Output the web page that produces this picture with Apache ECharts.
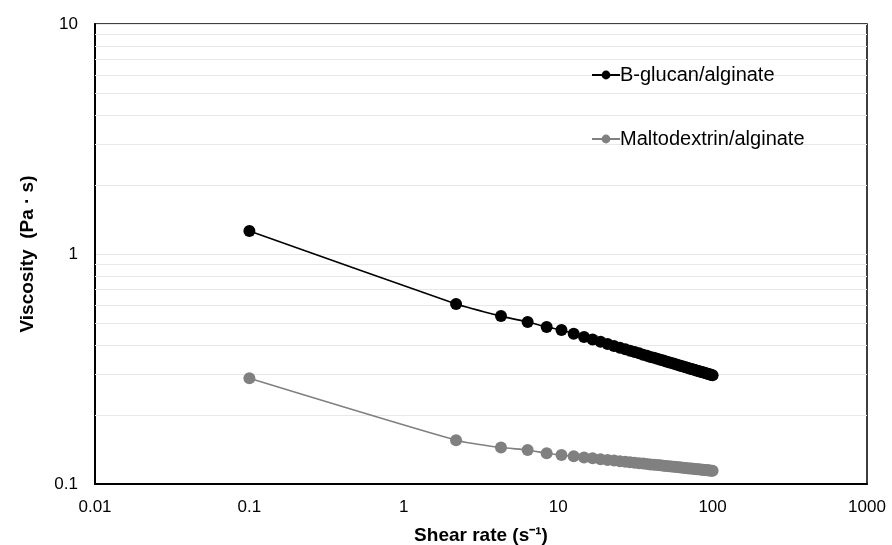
<!DOCTYPE html>
<html>
<head>
<meta charset="utf-8">
<script src="https://cdn.jsdelivr.net/npm/echarts@6/dist/echarts.min.js"></script>
<style>
  html, body { margin: 0; padding: 0; background: #fff; }
  #chart { width: 892px; height: 545px; }
</style>
</head>
<body>
<div id="chart"></div>
<script>
// shear rate (s^-1)
var shearRate = [0.1, 2.18, 4.26, 6.34, 8.42, 10.5, 12.6, 14.7, 16.7, 18.8, 20.9, 23.0, 25.1, 27.2, 29.2,
  31.3, 33.4, 35.5, 37.6, 39.6, 41.7, 43.8, 45.9, 48.0, 50.0, 52.1, 54.2, 56.3, 58.4, 60.5, 62.5,
  64.6, 66.7, 68.8, 70.9, 72.9, 75.0, 77.1, 79.2, 81.3, 83.3, 85.4, 87.5, 89.6, 91.7, 93.8, 95.8, 97.9, 100];

var glucanVisc = [1.26, 0.606, 0.537, 0.506, 0.482, 0.467, 0.450, 0.436, 0.425, 0.415, 0.406, 0.398, 0.391, 0.385, 0.380,
  0.375, 0.370, 0.365, 0.361, 0.357, 0.354, 0.350, 0.347, 0.344, 0.341, 0.338, 0.336, 0.333, 0.331, 0.328, 0.326,
  0.324, 0.322, 0.320, 0.318, 0.316, 0.315, 0.313, 0.311, 0.310, 0.308, 0.307, 0.305, 0.304, 0.302, 0.301, 0.300, 0.298, 0.297];

var maltoVisc = [0.288, 0.155, 0.144, 0.1406, 0.136, 0.1337, 0.1319, 0.1305, 0.1293, 0.1282, 0.1273, 0.1264, 0.1257, 0.1249, 0.1243,
  0.1237, 0.1232, 0.1227, 0.1222, 0.1217, 0.1213, 0.1209, 0.1205, 0.1201, 0.1198, 0.1194, 0.1191, 0.1188, 0.1185, 0.1182, 0.1179,
  0.1177, 0.1174, 0.1171, 0.1169, 0.1167, 0.1164, 0.1162, 0.1160, 0.1158, 0.1156, 0.1154, 0.1152, 0.1150, 0.1148, 0.1147, 0.1145, 0.1143, 0.1141];

// minor gridlines of the log y axis
var minorY = [0.2, 0.3, 0.4, 0.5, 0.6, 0.7, 0.8, 0.9, 2, 3, 4, 5, 6, 7, 8, 9];

var font = "Liberation Sans, Arial, sans-serif";

function pairs(xs, ys) {
  return xs.map(function (x, i) { return [x, ys[i]]; });
}
function fmt(v) {
  return String(Number(v.toPrecision(6)));
}

var chart = echarts.init(document.getElementById('chart'));
var option = {
  backgroundColor: '#fff',
  animation: false,
  grid: {
    left: 95, right: 25, top: 24, bottom: 61,
    outerBoundsMode: 'none',
    containLabel: false,
    show: true, borderColor: '#000', borderWidth: 1.5, backgroundColor: 'transparent'
  },
  legend: {
    orient: 'vertical',
    left: 586,
    top: 60,
    itemGap: 44,
    itemWidth: 28,
    itemHeight: 11,
    textStyle: { fontFamily: font, fontSize: 20, color: '#000', padding: [0, 0, 0, -5] },
    data: ['B-glucan/alginate', 'Maltodextrin/alginate']
  },
  xAxis: {
    type: 'log',
    logBase: 10,
    min: 0.01,
    max: 1000,
    name: 'Shear rate (s⁻¹)',
    nameLocation: 'middle',
    nameGap: 42,
    nameTextStyle: { fontFamily: font, fontSize: 19, fontWeight: 'bold', color: '#000' },
    axisLine: { show: true, lineStyle: { color: '#000', width: 2 } },
    axisTick: { show: false },
    splitLine: { show: false },
    axisLabel: { fontFamily: font, fontSize: 17, color: '#000', margin: 15, formatter: fmt }
  },
  yAxis: {
    type: 'log',
    logBase: 10,
    min: 0.1,
    max: 10,
    name: 'Viscosity  (Pa · s)',
    nameLocation: 'middle',
    nameGap: 58,
    nameTextStyle: { fontFamily: font, fontSize: 19, fontWeight: 'bold', color: '#000' },
    axisLine: { show: true, lineStyle: { color: '#000', width: 2 } },
    axisTick: { show: false },
    splitLine: { show: true, lineStyle: { color: '#e8e8e8', width: 1 } },
    axisLabel: { fontFamily: font, fontSize: 17, color: '#000', margin: 17, formatter: fmt }
  },
  series: [
    {
      name: 'B-glucan/alginate',
      type: 'line',
      smooth: 0.2,
      symbol: 'circle',
      symbolSize: 12,
      showAllSymbol: true,
      itemStyle: { color: '#000' },
      lineStyle: { color: '#000', width: 1.6 },
      data: pairs(shearRate, glucanVisc),
      z: 3,
      markLine: {
        silent: true,
        symbol: 'none',
        label: { show: false },
        lineStyle: { color: '#e8e8e8', width: 1, type: 'solid' },
        data: minorY.map(function (v) { return { yAxis: v }; }),
        z: 1
      }
    },
    {
      name: 'Maltodextrin/alginate',
      type: 'line',
      smooth: 0.2,
      symbol: 'circle',
      symbolSize: 12,
      showAllSymbol: true,
      itemStyle: { color: '#808080' },
      lineStyle: { color: '#808080', width: 1.6 },
      data: pairs(shearRate, maltoVisc),
      z: 2
    }
  ]
};
chart.setOption(option);
</script>
</body>
</html>
